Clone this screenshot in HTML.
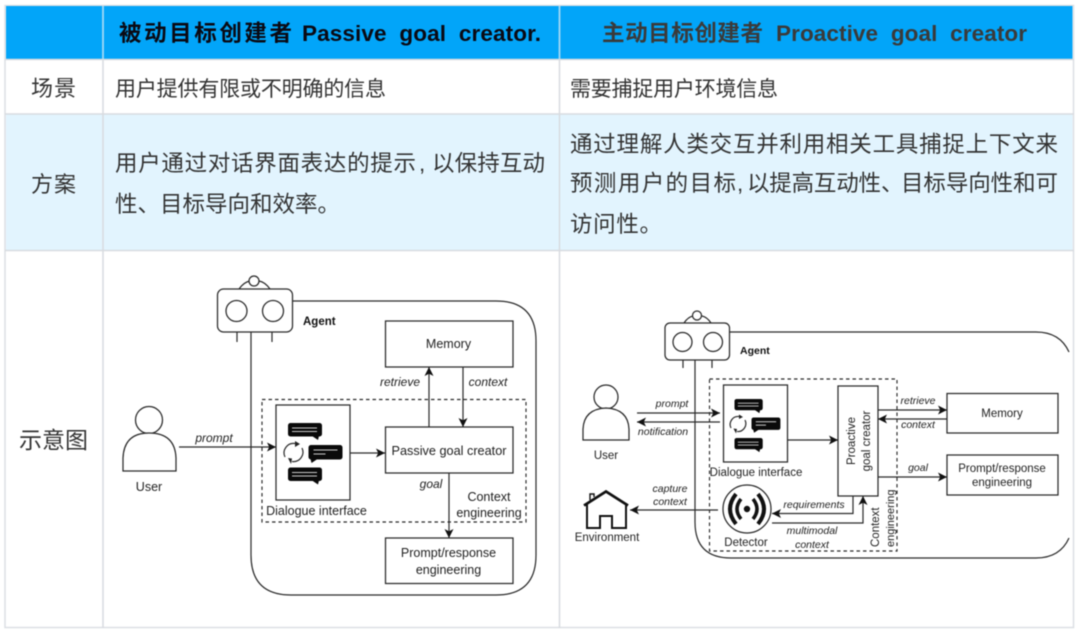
<!DOCTYPE html>
<html><head><meta charset="utf-8">
<style>
html,body{margin:0;padding:0;background:#fff;width:1080px;height:634px;overflow:hidden}
svg{display:block;filter:blur(.5px)}
text{font-family:"Liberation Sans","Noto Sans CJK SC",sans-serif;fill:#333;white-space:pre}
.zh{font-size:21px}
.z2{font-size:22.5px}
.h{font-size:22.5px;font-weight:700}
.s{font-size:12.5px;text-anchor:middle;fill:#222}
.i{font-size:12px;font-style:italic;text-anchor:middle;fill:#222}
.r{font-size:11.5px;text-anchor:middle;fill:#222}
.ri{font-size:10.5px;font-style:italic;text-anchor:middle;fill:#222}
.l{stroke:#2a2a2a;stroke-width:1.2;fill:none}
.b{stroke:#2a2a2a;stroke-width:1.25;fill:#fff}
.d{stroke:#2a2a2a;stroke-width:1.15;fill:none;stroke-dasharray:3.5 3}
</style></head><body>
<svg width="1080" height="634" viewBox="0 0 1080 634" xmlns="http://www.w3.org/2000/svg">
<defs>
<marker id="a" markerWidth="10" markerHeight="10" refX="9" refY="4.500" orient="auto" markerUnits="userSpaceOnUse"><path d="M0 0L9 4.500L0 9L2.200 4.500Z" fill="#111"/></marker>
<g id="bb"><rect x="0" y="0" width="34" height="13.500" rx="2.500" fill="#0a0a0a"/><path d="M24 13L31 13L30 17Z" fill="#0a0a0a"/><path d="M4 5H29M4 8.500H29" stroke="#ccc" stroke-width="1.100"/></g>
<g id="bc"><rect x="0" y="0" width="34" height="14.500" rx="2.500" fill="#0a0a0a"/><path d="M2 14L9 14L3 18Z" fill="#0a0a0a"/><path d="M5 5H29M5 9H17" stroke="#ccc" stroke-width="1.100"/></g>
</defs>
<rect width="1080" height="634" fill="#fff"/>
<!-- table -->
<rect x="5" y="5.500" width="1068.500" height="622" fill="#fff" stroke="#dcdfe4" stroke-width="1.500"/>
<rect x="6" y="6" width="1066.500" height="53" fill="#02a5f9"/>
<rect x="6" y="114" width="1066.500" height="136" fill="#e2f4fe"/>
<path d="M5 59.500H1074M5 114H1074M5 250.500H1074M103 5V628M559.500 5V628" stroke="#d8dbe0" stroke-width="1.500" fill="none"/>
<path d="M103 6V59M559.500 6V59" stroke="#9fd8f7" stroke-width="1.500"/>
<text class="h" x="119" y="41" textLength="173" style="fill:#0a0a14">被动目标创建者</text>
<text class="h" x="302" y="41" textLength="239" style="fill:#0a0a14">Passive  goal  creator.</text>
<text class="h" x="602" y="41" textLength="161" style="fill:#3a3a3a">主动目标创建者</text>
<text class="h" x="776" y="41" textLength="251" style="fill:#3a3a3a">Proactive  goal  creator</text>
<text class="zh" x="31" y="96" textLength="45" style="font-size:22px">场景</text>
<text class="zh" x="31" y="192" textLength="45" style="font-size:22px">方案</text>
<text class="zh" x="19" y="448" textLength="69" style="font-size:23px">示意图</text>
<text class="zh" x="115" y="96" textLength="271">用户提供有限或不明确的信息</text>
<text class="zh" x="570" y="96" textLength="208">需要捕捉用户环境信息</text>
<text class="z2" x="115" y="171" textLength="301">用户通过对话界面表达的提示</text>
<text class="z2" x="419" y="171">,</text>
<text class="z2" x="432" y="171" textLength="113">以保持互动</text>
<text class="z2" x="115" y="212">性、目标导向和效率。</text>
<text class="z2" x="570" y="152" textLength="488">通过理解人类交互并利用相关工具捕捉上下文来</text>
<text class="z2" x="570" y="191" textLength="166">预测用户的目标</text>
<text class="z2" x="737" y="191">,</text>
<text class="z2" x="747" y="191" textLength="134">以提高互动性</text>
<text class="z2" x="881" y="191">、</text>
<text class="z2" x="901" y="191" textLength="157">目标导向性和可</text>
<text class="z2" x="570" y="232" textLength="92">访问性。</text>

<!-- LEFT DIAGRAM -->
<path class="l" d="M292 301H496Q536 301 536 341V555Q536 595 496 595H291Q251 595 251 555V332"/>
<path class="l" d="M237 332V342M272 332V342"/>
<path class="l" d="M239 289Q244 282 250 281M259 281Q265 282 270 289"/>
<circle class="b" cx="254" cy="281" r="5"/>
<rect class="b" x="217.500" y="289" width="75" height="43" rx="6"/>
<circle class="b" cx="236.500" cy="311" r="10.500"/><circle class="b" cx="273" cy="311" r="10.500"/>
<text x="303" y="325" style="font-size:11.500px;font-weight:700;fill:#111">Agent</text>
<rect class="d" x="262" y="399.500" width="264" height="122.500"/>
<rect class="b" x="276" y="405" width="74" height="95"/>
<use href="#bb" x="288" y="423"/><use href="#bc" x="308.500" y="445"/><use href="#bb" x="288" y="467.500"/>
<path class="l" d="M285 457A9.500 9.500 0 0 1 295 443.500M302 448A9.500 9.500 0 0 1 292 461.500" stroke-width="1"/>
<path d="M295 441L300 444L295 447ZM288 458L292 458.500L291 464Z" fill="#222"/>
<text class="s" x="316.500" y="515">Dialogue interface</text>
<rect class="b" x="385.500" y="321" width="127.500" height="46"/>
<text class="s" x="448.500" y="348">Memory</text>
<rect class="b" x="385.500" y="427" width="127.500" height="46"/>
<text class="s" x="449" y="455" textLength="115" lengthAdjust="spacingAndGlyphs">Passive goal creator</text>
<rect class="b" x="385.500" y="538" width="127.500" height="45.500"/>
<text class="s" x="448.500" y="557">Prompt/response</text>
<text class="s" x="448.500" y="574">engineering</text>
<path class="l" d="M429 427V367" marker-end="url(#a)"/>
<path class="l" d="M463 367V427" marker-end="url(#a)"/>
<path class="l" d="M449 473V538" marker-end="url(#a)"/>
<path class="l" d="M350 453H385" marker-end="url(#a)"/>
<path class="l" d="M179 447H276" marker-end="url(#a)"/>
<text class="i" x="400" y="386">retrieve</text>
<text class="i" x="488" y="386">context</text>
<text class="i" x="431" y="488">goal</text>
<text class="s" x="489" y="501">Context</text>
<text class="s" x="489" y="517">engineering</text>
<text class="i" x="214" y="442">prompt</text>
<circle class="b" cx="149" cy="420" r="13.500"/>
<path class="b" d="M123 471V458Q124 433 149 433Q175 433 176 458V471Z"/>
<text class="s" x="149" y="491">User</text>

<!-- RIGHT DIAGRAM -->
<path class="l" d="M729 332H1036Q1060 332 1069 352M1069 538Q1060 558 1036 558H731Q695 558 695 522V360"/>
<path class="l" d="M683 360V368M712 360V368"/>
<path class="l" d="M684 323Q688 317 693 316M702 316Q707 317 711 323"/>
<circle class="b" cx="697" cy="315.500" r="4.500"/>
<rect class="b" x="665" y="323" width="64.500" height="37" rx="5"/>
<circle class="b" cx="682.500" cy="342" r="9.500"/><circle class="b" cx="713" cy="342" r="9.500"/>
<text x="740" y="354" style="font-size:10.500px;font-weight:700;fill:#111">Agent</text>
<rect class="d" x="709.500" y="379" width="187.500" height="172"/>
<rect class="b" x="723.500" y="385" width="64" height="77"/>
<use href="#bb" transform="translate(734.500 399) scale(.83)"/><use href="#bc" transform="translate(751.500 417.500) scale(.85)"/><use href="#bb" transform="translate(734.500 438) scale(.83)"/>
<path class="l" d="M731 428A8 8 0 0 1 739 416.500M745 420A8 8 0 0 1 737 431.500" stroke-width="1"/>
<path d="M739 414.500L743 417L739 419ZM733.500 428.500L737 429L736 433.500Z" fill="#222"/>
<text class="r" x="756" y="476">Dialogue interface</text>
<rect class="b" x="838" y="386" width="40" height="110"/>
<text class="r" transform="translate(855 441) rotate(-90)">Proactive</text>
<text class="r" transform="translate(870 441) rotate(-90)">goal creator</text>
<rect class="b" x="947" y="393.500" width="111" height="39.500"/>
<text class="r" x="1002" y="417">Memory</text>
<rect class="b" x="947" y="455" width="111" height="40"/>
<text class="r" x="1002" y="472">Prompt/response</text>
<text class="r" x="1002" y="486">engineering</text>
<path class="l" d="M637 413H720" marker-end="url(#a)"/>
<path class="l" d="M720 422H637" marker-end="url(#a)"/>
<path class="l" d="M787 440H838" marker-end="url(#a)"/>
<path class="l" d="M878 410H947" marker-end="url(#a)"/>
<path class="l" d="M947 419H878" marker-end="url(#a)"/>
<path class="l" d="M878 477H947" marker-end="url(#a)"/>
<path class="l" d="M718 510H630" marker-end="url(#a)"/>
<path class="l" d="M853 496V513.500H772" marker-end="url(#a)"/>
<path class="l" d="M772 523H863V496" marker-end="url(#a)"/>
<text class="ri" x="672" y="407">prompt</text>
<text class="ri" x="663" y="435">notification</text>
<text class="ri" x="670" y="492">capture</text>
<text class="ri" x="670" y="505">context</text>
<text class="ri" x="814" y="508">requirements</text>
<text class="ri" x="812" y="534">multimodal</text>
<text class="ri" x="812" y="548">context</text>
<text class="ri" x="918" y="404">retrieve</text>
<text class="ri" x="918" y="428">context</text>
<text class="ri" x="918" y="471">goal</text>
<text class="r" transform="translate(879 547) rotate(-90)" style="font-size:11.500px;text-anchor:start">Context</text>
<text class="r" transform="translate(894 547) rotate(-90)" style="font-size:11px;text-anchor:start">engineering</text>
<circle class="b" cx="606" cy="397" r="12"/>
<path class="b" d="M583 440V429Q584 409 606 408Q628 409 629 429V440Z"/>
<text class="r" x="606" y="459">User</text>
<!-- detector -->
<circle class="b" cx="747" cy="509" r="24"/>
<circle cx="747" cy="509" r="3.200" fill="#111"/>
<path d="M741 499Q733 509 741 519M753 499Q761 509 753 519" stroke="#111" stroke-width="3.500" fill="none"/>
<path d="M736 494Q724 509 736 524M758 494Q770 509 758 524" stroke="#111" stroke-width="4" fill="none"/>
<text class="r" x="746" y="546">Detector</text>
<!-- house -->
<path d="M584 505.500L606 491.500L628 505.500" stroke="#111" stroke-width="2.800" fill="none"/>
<path d="M587 503V528H600V516H612V528H626V503" stroke="#111" stroke-width="2" fill="none"/>
<path d="M590 500V494H594V497" stroke="#111" stroke-width="1.400" fill="none"/>
<text class="r" x="607" y="541">Environment</text>
</svg>
</body></html>
